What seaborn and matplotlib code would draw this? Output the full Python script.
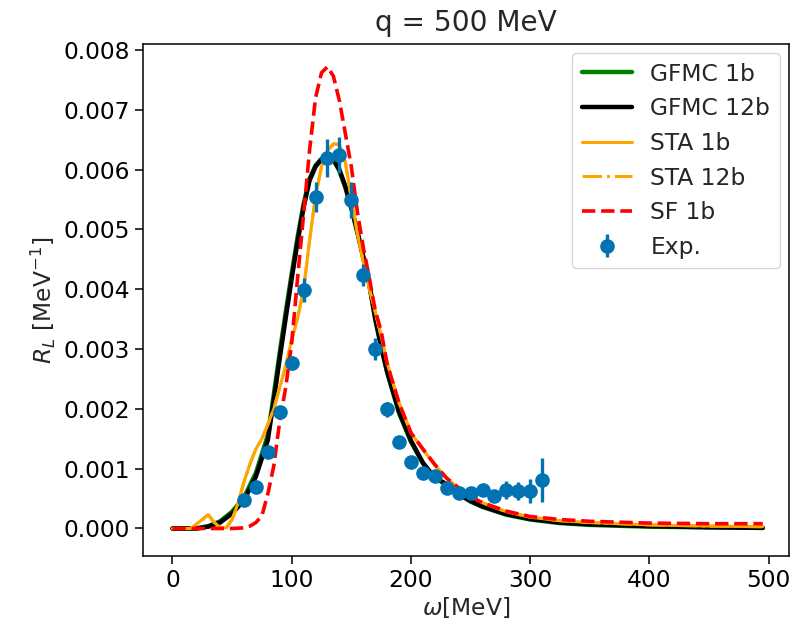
import matplotlib
matplotlib.use("Agg")
import matplotlib.pyplot as plt
import seaborn as sns

# ---------------- data ----------------
gfmc_x = [0, 20, 30, 40, 50, 60, 70, 80, 85, 90, 95, 100, 105, 110, 115, 120, 125,
          130, 135, 140, 145, 150, 155, 160, 165, 170, 175, 180, 190, 200, 210, 220,
          230, 240, 250, 260, 280, 300, 325, 350, 400, 450, 495]
gfmc_1b = [0, 0, 0.00004, 0.00012, 0.00028, 0.00052, 0.00093, 0.00156, 0.00224, 0.00295,
           0.00362, 0.00426, 0.00488, 0.00543, 0.00585, 0.00607, 0.00618, 0.00621, 0.00616,
           0.00598, 0.00570, 0.00535, 0.00495, 0.00452, 0.00408, 0.00350, 0.00303, 0.00261,
           0.00193, 0.00145, 0.00109, 0.00084, 0.00073, 0.00057, 0.00045, 0.00036, 0.00023,
           0.00015, 0.00009, 0.00006, 0.00003, 0.00002, 0.00001]
gfmc_12b = [0, 0, 0.00003, 0.00010, 0.00025, 0.00047, 0.00087, 0.00148, 0.00215, 0.00285,
            0.00352, 0.00418, 0.00480, 0.00537, 0.00582, 0.00605, 0.00617, 0.00621, 0.00617,
            0.00600, 0.00572, 0.00537, 0.00497, 0.00455, 0.00410, 0.00352, 0.00305, 0.00263,
            0.00195, 0.00147, 0.00110, 0.00085, 0.00074, 0.00058, 0.00046, 0.00037, 0.00024,
            0.00016, 0.00010, 0.00007, 0.00004, 0.00002, 0.00001]

sta_x = [0, 15, 20, 25, 30, 35, 40, 45, 50, 55, 60, 65, 70, 75, 80, 85, 90, 95, 100, 105,
         110, 115, 120, 125, 130, 135, 140, 145, 150, 155, 160, 165, 170, 175, 180, 190,
         200, 210, 220, 230, 240, 250, 260, 280, 300, 325, 350, 400, 450, 495]
sta_1b = [0, 0, 0.00007, 0.00015, 0.00023, 0.00010, 0.00002, 0.00001, 0.00015, 0.00042,
          0.00078, 0.00108, 0.00133, 0.00150, 0.00174, 0.00200, 0.00236, 0.00272, 0.00316,
          0.00352, 0.00400, 0.00482, 0.00556, 0.00605, 0.00632, 0.00643, 0.00642, 0.00612,
          0.00552, 0.00494, 0.00446, 0.00402, 0.00362, 0.00322, 0.00277, 0.00210, 0.00160,
          0.00132, 0.00106, 0.00084, 0.00067, 0.00053, 0.00043, 0.00028, 0.00019, 0.00013,
          0.00010, 0.00006, 0.00004, 0.00003]
sta_12b = [0, 0, 0.00007, 0.00015, 0.00023, 0.00010, 0.00002, 0.00001, 0.00015, 0.00042,
           0.00078, 0.00108, 0.00133, 0.00150, 0.00174, 0.00200, 0.00236, 0.00272, 0.00316,
           0.00352, 0.00400, 0.00482, 0.00556, 0.00605, 0.00632, 0.00643, 0.00642, 0.00612,
           0.00552, 0.00494, 0.00446, 0.00402, 0.00362, 0.00322, 0.00277, 0.00210, 0.00160,
           0.00132, 0.00106, 0.00084, 0.00067, 0.00053, 0.00043, 0.00028, 0.00019, 0.00013,
           0.00010, 0.00006, 0.00004, 0.00003]

sf_x = [0, 50, 60, 65, 70, 75, 80, 85, 90, 95, 100, 105, 110, 115, 120, 125, 130, 135,
        140, 145, 150, 155, 160, 165, 170, 175, 180, 190, 200, 210, 220, 230, 240, 250,
        260, 280, 300, 325, 350, 400, 450, 495]
sf_1b = [0, 0, 0.00001, 0.00004, 0.00010, 0.00021, 0.00058, 0.00105, 0.00180, 0.00236,
         0.00310, 0.00420, 0.00526, 0.00633, 0.00720, 0.00762, 0.00772, 0.00756, 0.00715,
         0.00660, 0.00605, 0.00530, 0.00470, 0.00420, 0.00365, 0.00330, 0.00275, 0.00210,
         0.00160, 0.00133, 0.00107, 0.00084, 0.00068, 0.00053, 0.00043, 0.00029, 0.00020,
         0.00015, 0.00012, 0.00009, 0.00008, 0.00008]

exp_x = [60, 70, 80, 90, 100, 110, 120, 130, 140, 150, 160, 170, 180, 190, 200, 210,
         220, 230, 240, 250, 260, 270, 280, 290, 300, 310]
exp_y = [0.00047, 0.00069, 0.00128, 0.00195, 0.00277, 0.00398, 0.00554, 0.00619, 0.00624,
         0.00549, 0.00424, 0.00300, 0.00199, 0.00144, 0.00111, 0.00092, 0.00087, 0.00067,
         0.00060, 0.00060, 0.00064, 0.00054, 0.00065, 0.00062, 0.00062, 0.00081]
exp_err = [0.00006, 0.00006, 0.00007, 0.00010, 0.00012, 0.00020, 0.00025, 0.00032, 0.00030,
           0.00030, 0.00018, 0.00018, 0.00012, 0.00010, 0.00008, 0.00008, 0.00008, 0.00008,
           0.00008, 0.00010, 0.00010, 0.00010, 0.00015, 0.00015, 0.00020, 0.00037]

# ---------------- style ----------------
sns.set_theme(style="ticks")
plt.rcParams["font.family"] = ["DejaVu Sans"]
plt.rcParams["mathtext.fontset"] = "dejavusans"

FS = 16.8

fig = plt.figure(figsize=(7.93, 6.25), dpi=100)
ax = fig.add_axes([143 / 793, 1 - 556 / 625, (789 - 143) / 793, (556 - 44) / 625])

sns.lineplot(x=gfmc_x, y=gfmc_1b, ax=ax, color="green", lw=3.2, label="GFMC 1b")
sns.lineplot(x=gfmc_x, y=gfmc_12b, ax=ax, color="black", lw=3.2, label="GFMC 12b")
sns.lineplot(x=sta_x, y=sta_1b, ax=ax, color="orange", lw=2.2, label="STA 1b")
sns.lineplot(x=sta_x, y=sta_12b, ax=ax, color="orange", lw=2.2, linestyle="-.",
             label="STA 12b")
sns.lineplot(x=sf_x, y=sf_1b, ax=ax, color="red", lw=2.6, linestyle="--", label="SF 1b")
ax.errorbar(exp_x, exp_y, yerr=exp_err, fmt="o", color="#0173b2", markersize=9.5,
            elinewidth=2.4, capsize=0, label="Exp.", zorder=5)

ax.set_xlim(-24.7, 517)
ax.set_ylim(-0.00046, 0.0081)
ax.set_xticks([0, 100, 200, 300, 400, 500])
ax.set_yticks([0.000, 0.001, 0.002, 0.003, 0.004, 0.005, 0.006, 0.007, 0.008])
ax.set_yticklabels([f"{v:.3f}" for v in ax.get_yticks()])

ax.tick_params(labelsize=FS, length=5.5, width=1.1, color="black", labelcolor="black",
               pad=4)
for s in ax.spines.values():
    s.set_linewidth(1.1)
    s.set_color("black")

ax.set_title("q = 500 MeV", fontsize=FS * 1.2, pad=9)
ax.set_xlabel(r"$\omega$[MeV]", fontsize=FS, labelpad=2)
ax.set_ylabel(r"$R_L$ [MeV$^{-1}$]", fontsize=FS, labelpad=4)

leg = ax.legend(loc="upper right", fontsize=FS, frameon=True, handlelength=2.15,
                borderaxespad=0.4, labelspacing=0.5)
leg.get_frame().set_edgecolor("#cccccc")

fig.savefig("out.png", dpi=100)
